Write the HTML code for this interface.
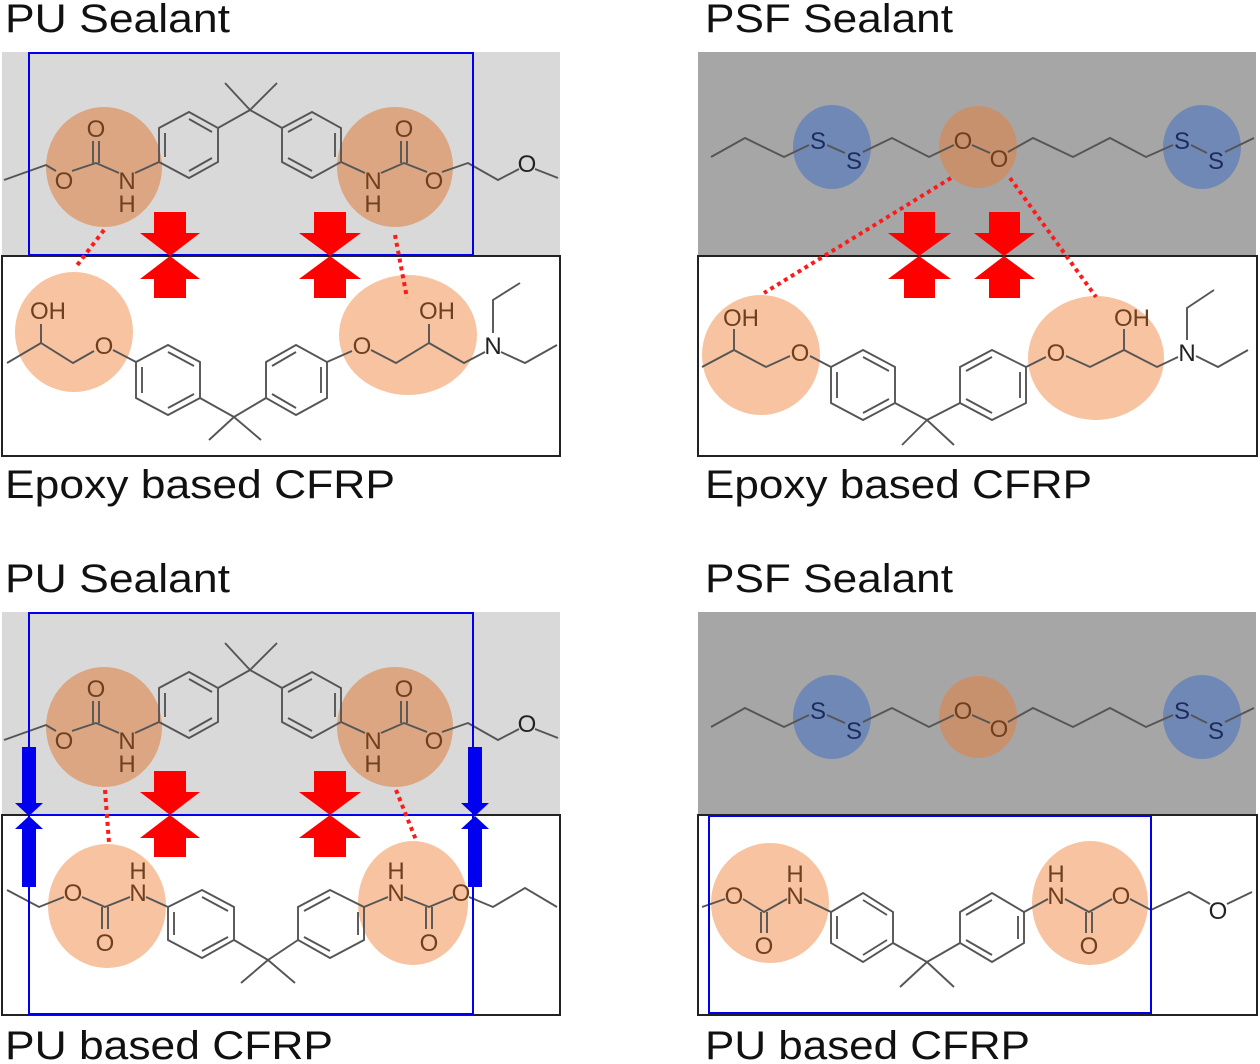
<!DOCTYPE html>
<html><head><meta charset="utf-8"><style>
html,body{margin:0;padding:0;background:#fff}
svg{display:block}
.b{fill:none;stroke:#555;stroke-width:1.9;stroke-linejoin:miter}
.lbl{font-family:"Liberation Sans",sans-serif;font-size:40px;fill:#111}
.a{font-family:"Liberation Sans",sans-serif;font-size:24px;text-anchor:middle;fill:#6e4020}
.k{fill:#222}
.s{fill:#1d2c5c}
.dot{stroke:#ff1a1a;stroke-width:4;stroke-dasharray:4 4;fill:none}
.ar{fill:#ff0000}
.ab{fill:#0000ee}
</style></head><body>
<svg width="1260" height="1064" viewBox="0 0 1260 1064" xmlns="http://www.w3.org/2000/svg">
<text class="lbl" x="5" y="32" textLength="225" lengthAdjust="spacingAndGlyphs">PU Sealant</text>
<text class="lbl" x="705" y="32" textLength="248" lengthAdjust="spacingAndGlyphs">PSF Sealant</text>
<text class="lbl" x="5" y="498" textLength="390" lengthAdjust="spacingAndGlyphs">Epoxy based CFRP</text>
<text class="lbl" x="705" y="498" textLength="387" lengthAdjust="spacingAndGlyphs">Epoxy based CFRP</text>
<text class="lbl" x="5" y="592" textLength="225" lengthAdjust="spacingAndGlyphs">PU Sealant</text>
<text class="lbl" x="705" y="592" textLength="248" lengthAdjust="spacingAndGlyphs">PSF Sealant</text>
<text class="lbl" x="5" y="1059" textLength="328" lengthAdjust="spacingAndGlyphs">PU based CFRP</text>
<text class="lbl" x="705" y="1059" textLength="325" lengthAdjust="spacingAndGlyphs">PU based CFRP</text>

<rect x="2" y="52" width="558" height="204" fill="#d9d9d9"/>
<rect x="2" y="256" width="558" height="200" fill="#fff" stroke="#222" stroke-width="2"/>
<rect x="698" y="52" width="558" height="204" fill="#a6a6a6"/>
<rect x="698" y="256" width="559" height="200" fill="#fff" stroke="#222" stroke-width="2"/>
<rect x="2" y="612" width="558" height="203" fill="#d9d9d9"/>
<rect x="2" y="815" width="558" height="200" fill="#fff" stroke="#222" stroke-width="2"/>
<rect x="698" y="612" width="558" height="203" fill="#a6a6a6"/>
<rect x="698" y="815" width="559" height="200" fill="#fff" stroke="#222" stroke-width="2"/>

<g>
<ellipse cx="104" cy="167" rx="58" ry="60" fill="#dca683"/>
<ellipse cx="395" cy="167" rx="58" ry="60" fill="#dca683"/>
<polyline class="b" points="4,180 46,165 56,171"/>
<polyline class="b" points="72,171 96,163 119,173"/>
<line class="b" x1="93" y1="163" x2="93" y2="141"/><line class="b" x1="99" y1="163" x2="99" y2="141"/>
<line class="b" x1="135" y1="173" x2="159" y2="162"/>
<polygon class="b" points="159,128 189,112 218,128 218,162 189,178 159,162"/>
<line class="b" x1="165" y1="133" x2="165" y2="157"/><line class="b" x1="189" y1="119" x2="212" y2="132"/><line class="b" x1="189" y1="171" x2="212" y2="158"/>
<polyline class="b" points="218,128 250,110 282,128"/>
<line class="b" x1="250" y1="110" x2="225" y2="83"/><line class="b" x1="250" y1="110" x2="277" y2="83"/>
<polygon class="b" points="282,128 312,112 341,128 341,162 312,178 282,162"/>
<line class="b" x1="335" y1="133" x2="335" y2="157"/><line class="b" x1="312" y1="119" x2="288" y2="132"/><line class="b" x1="312" y1="171" x2="288" y2="158"/>
<line class="b" x1="341" y1="162" x2="365" y2="173"/>
<polyline class="b" points="381,173 404,163 427,172"/>
<line class="b" x1="401" y1="163" x2="401" y2="141"/><line class="b" x1="407" y1="163" x2="407" y2="141"/>
<polyline class="b" points="442,172 468,163 498,180 519,169"/>
<line class="b" x1="535" y1="169" x2="558" y2="178"/>
<text class="a" x="64" y="189">O</text>
<text class="a" x="96" y="137">O</text>
<text class="a" x="127" y="189">N</text>
<text class="a" x="127" y="212">H</text>
<text class="a" x="373" y="189">N</text>
<text class="a" x="373" y="212">H</text>
<text class="a" x="404" y="137">O</text>
<text class="a" x="434" y="189">O</text>
<text class="a k" x="527" y="172">O</text>
</g>

<ellipse cx="74" cy="332" rx="59" ry="60" fill="#f7c3a0"/>
<ellipse cx="408" cy="335" rx="69" ry="60" fill="#f7c3a0"/>
<polyline class="b" points="7,363 41,343 73,363 94,351"/>
<line class="b" x1="41" y1="343" x2="41" y2="324"/>
<polyline class="b" points="113,350 136,362"/>
<polygon class="b" points="136,362 168,345 200,362 200,398 168,415 136,398"/>
<line class="b" x1="142" y1="367" x2="142" y2="393"/><line class="b" x1="168" y1="352" x2="194" y2="366"/><line class="b" x1="168" y1="408" x2="194" y2="394"/>
<polyline class="b" points="200,398 234,417 266,398"/>
<line class="b" x1="234" y1="417" x2="209" y2="440"/><line class="b" x1="234" y1="417" x2="261" y2="440"/>
<polygon class="b" points="266,362 296,345 327,362 327,398 296,415 266,398"/>
<line class="b" x1="321" y1="367" x2="321" y2="393"/><line class="b" x1="296" y1="352" x2="272" y2="366"/><line class="b" x1="296" y1="408" x2="272" y2="394"/>
<line class="b" x1="327" y1="362" x2="352" y2="351"/>
<polyline class="b" points="371,350 396,363 429,343 464,363 485,352"/>
<line class="b" x1="429" y1="343" x2="429" y2="324"/>
<polyline class="b" points="493,333 493,300 520,283"/>
<polyline class="b" points="501,352 525,363 557,345"/>
<text class="a" x="48" y="319">OH</text>
<text class="a" x="104" y="354">O</text>
<text class="a" x="362" y="354">O</text>
<text class="a" x="437" y="319">OH</text>
<text class="a k" x="493" y="354">N</text>

<rect x="29" y="53" width="444" height="202" fill="none" stroke="#0000ee" stroke-width="2"/>
<line class="dot" x1="104" y1="230" x2="75" y2="268"/>
<line class="dot" x1="395" y1="235" x2="407" y2="298"/>
<path class="ar" d="M154,212 H186 V233 H200 L170,256 L140,233 H154 Z"/>
<path class="ar" d="M154,298 H186 V279 H200 L170,256 L140,279 H154 Z"/>
<path class="ar" d="M314,212 H346 V233 H361 L330,256 L299,233 H314 Z"/>
<path class="ar" d="M314,298 H346 V279 H361 L330,256 L299,279 H314 Z"/>

<g>
<ellipse cx="832" cy="147" rx="39" ry="42" fill="#6f88b5"/>
<ellipse cx="1202" cy="147" rx="39" ry="42" fill="#6f88b5"/>
<ellipse cx="978" cy="147" rx="39" ry="41" fill="#c8916d"/>
<polyline class="b" points="711,157 745,138 784,157 809,145"/>
<line class="b" x1="827" y1="145" x2="845" y2="153"/>
<polyline class="b" points="863,152 892,138 929,157 954,145"/>
<line class="b" x1="972" y1="145" x2="990" y2="153"/>
<polyline class="b" points="1008,152 1033,138 1073,157 1110,138 1146,157 1173,145"/>
<line class="b" x1="1191" y1="145" x2="1207" y2="153"/>
<line class="b" x1="1225" y1="152" x2="1254" y2="138"/>
<text class="a s" x="818" y="149">S</text>
<text class="a s" x="854" y="169">S</text>
<text class="a" x="963" y="149">O</text>
<text class="a" x="999" y="167">O</text>
<text class="a s" x="1182" y="149">S</text>
<text class="a s" x="1216" y="169">S</text>
</g>

<ellipse cx="761" cy="355" rx="59" ry="60" fill="#f7c3a0"/>
<ellipse cx="1096" cy="358" rx="68" ry="62" fill="#f7c3a0"/>
<polyline class="b" points="702,367 734,350 766,367 790,356"/>
<line class="b" x1="734" y1="350" x2="734" y2="329"/>
<line class="b" x1="810" y1="356" x2="831" y2="367"/>
<polygon class="b" points="831,367 863,350 895,367 895,403 863,420 831,403"/>
<line class="b" x1="837" y1="372" x2="837" y2="398"/><line class="b" x1="863" y1="357" x2="889" y2="371"/><line class="b" x1="863" y1="413" x2="889" y2="399"/>
<polyline class="b" points="895,403 927,420 960,403"/>
<line class="b" x1="927" y1="420" x2="902" y2="445"/><line class="b" x1="927" y1="420" x2="954" y2="445"/>
<polygon class="b" points="960,367 992,350 1026,367 1026,403 992,420 960,403"/>
<line class="b" x1="1020" y1="372" x2="1020" y2="398"/><line class="b" x1="992" y1="357" x2="966" y2="371"/><line class="b" x1="992" y1="413" x2="966" y2="399"/>
<line class="b" x1="1026" y1="367" x2="1046" y2="357"/>
<polyline class="b" points="1066,356 1090,367 1124,350 1157,367 1178,357"/>
<line class="b" x1="1124" y1="350" x2="1124" y2="329"/>
<polyline class="b" points="1187,340 1187,308 1214,290"/>
<polyline class="b" points="1196,356 1218,367 1248,350"/>
<text class="a" x="741" y="326">OH</text>
<text class="a" x="800" y="361">O</text>
<text class="a" x="1056" y="361">O</text>
<text class="a" x="1132" y="326">OH</text>
<text class="a k" x="1187" y="361">N</text>
<line class="dot" x1="951" y1="178" x2="764" y2="293"/>
<line class="dot" x1="1010" y1="178" x2="1096" y2="297"/>
<path class="ar" d="M904,212 H935 V233 H951 L919,256 L888,233 H904 Z"/>
<path class="ar" d="M904,298 H935 V279 H951 L919,256 L888,279 H904 Z"/>
<path class="ar" d="M989,212 H1020 V233 H1035 L1004,256 L974,233 H989 Z"/>
<path class="ar" d="M989,298 H1020 V279 H1035 L1004,256 L974,279 H989 Z"/>

<g transform="translate(0,560)">
<ellipse cx="104" cy="167" rx="58" ry="60" fill="#dca683"/>
<ellipse cx="395" cy="167" rx="58" ry="60" fill="#dca683"/>
<polyline class="b" points="4,180 46,165 56,171"/>
<polyline class="b" points="72,171 96,163 119,173"/>
<line class="b" x1="93" y1="163" x2="93" y2="141"/><line class="b" x1="99" y1="163" x2="99" y2="141"/>
<line class="b" x1="135" y1="173" x2="159" y2="162"/>
<polygon class="b" points="159,128 189,112 218,128 218,162 189,178 159,162"/>
<line class="b" x1="165" y1="133" x2="165" y2="157"/><line class="b" x1="189" y1="119" x2="212" y2="132"/><line class="b" x1="189" y1="171" x2="212" y2="158"/>
<polyline class="b" points="218,128 250,110 282,128"/>
<line class="b" x1="250" y1="110" x2="225" y2="83"/><line class="b" x1="250" y1="110" x2="277" y2="83"/>
<polygon class="b" points="282,128 312,112 341,128 341,162 312,178 282,162"/>
<line class="b" x1="335" y1="133" x2="335" y2="157"/><line class="b" x1="312" y1="119" x2="288" y2="132"/><line class="b" x1="312" y1="171" x2="288" y2="158"/>
<line class="b" x1="341" y1="162" x2="365" y2="173"/>
<polyline class="b" points="381,173 404,163 427,172"/>
<line class="b" x1="401" y1="163" x2="401" y2="141"/><line class="b" x1="407" y1="163" x2="407" y2="141"/>
<polyline class="b" points="442,172 468,163 498,180 519,169"/>
<line class="b" x1="535" y1="169" x2="558" y2="178"/>
<text class="a" x="64" y="189">O</text>
<text class="a" x="96" y="137">O</text>
<text class="a" x="127" y="189">N</text>
<text class="a" x="127" y="212">H</text>
<text class="a" x="373" y="189">N</text>
<text class="a" x="373" y="212">H</text>
<text class="a" x="404" y="137">O</text>
<text class="a" x="434" y="189">O</text>
<text class="a k" x="527" y="172">O</text>
</g>
<ellipse cx="107" cy="906" rx="59" ry="62" fill="#f7c3a0"/>
<ellipse cx="413" cy="903" rx="55" ry="62" fill="#f7c3a0"/>
<polyline class="b" points="7,890 39,907 64,897"/>
<polyline class="b" points="82,897 105,907 130,897"/>
<line class="b" x1="102" y1="907" x2="102" y2="929"/><line class="b" x1="108" y1="907" x2="108" y2="929"/>
<line class="b" x1="146" y1="897" x2="168" y2="907"/>
<polygon class="b" points="168,907 202,890 234,907 234,940 202,958 168,940"/>
<line class="b" x1="174" y1="912" x2="174" y2="935"/><line class="b" x1="202" y1="897" x2="228" y2="911"/><line class="b" x1="202" y1="951" x2="228" y2="937"/>
<polyline class="b" points="234,940 268,960 298,940"/>
<line class="b" x1="268" y1="960" x2="241" y2="983"/><line class="b" x1="268" y1="960" x2="295" y2="983"/>
<polygon class="b" points="298,907 330,890 364,907 364,940 330,958 298,940"/>
<line class="b" x1="358" y1="912" x2="358" y2="935"/><line class="b" x1="330" y1="897" x2="304" y2="911"/><line class="b" x1="330" y1="951" x2="304" y2="937"/>
<line class="b" x1="364" y1="907" x2="388" y2="897"/>
<polyline class="b" points="404,897 429,907 453,897"/>
<line class="b" x1="426" y1="907" x2="426" y2="929"/><line class="b" x1="432" y1="907" x2="432" y2="929"/>
<polyline class="b" points="469,897 493,907 525,888 557,907"/>
<text class="a" x="73" y="901">O</text>
<text class="a" x="105" y="951">O</text>
<text class="a" x="138" y="901">N</text>
<text class="a" x="138" y="879">H</text>
<text class="a" x="396" y="901">N</text>
<text class="a" x="396" y="879">H</text>
<text class="a" x="429" y="951">O</text>
<text class="a" x="461" y="901">O</text>
<rect x="29" y="613" width="444" height="401" fill="none" stroke="#0000ee" stroke-width="2"/>
<line x1="29" y1="815" x2="473" y2="815" stroke="#0000ee" stroke-width="2"/>
<line class="dot" x1="105" y1="790" x2="109" y2="843"/>
<line class="dot" x1="396" y1="790" x2="416" y2="840"/>
<path class="ar" d="M154,771 H186 V792 H200 L170,815 L140,792 H154 Z"/>
<path class="ar" d="M154,857 H186 V838 H200 L170,815 L140,838 H154 Z"/>
<path class="ar" d="M314,771 H346 V792 H361 L330,815 L299,792 H314 Z"/>
<path class="ar" d="M314,857 H346 V838 H361 L330,815 L299,838 H314 Z"/>
<path class="ab" d="M22,747 H36 V803 H43 L29,816 L15,803 H22 Z"/>
<path class="ab" d="M22,887 H36 V829 H43 L29,816 L15,829 H22 Z"/>
<path class="ab" d="M468,747 H482 V803 H489 L475,816 L461,803 H468 Z"/>
<path class="ab" d="M468,887 H482 V829 H489 L475,816 L461,829 H468 Z"/>

<g transform="translate(0,570)">
<ellipse cx="832" cy="147" rx="39" ry="42" fill="#6f88b5"/>
<ellipse cx="1202" cy="147" rx="39" ry="42" fill="#6f88b5"/>
<ellipse cx="978" cy="147" rx="39" ry="41" fill="#c8916d"/>
<polyline class="b" points="711,157 745,138 784,157 809,145"/>
<line class="b" x1="827" y1="145" x2="845" y2="153"/>
<polyline class="b" points="863,152 892,138 929,157 954,145"/>
<line class="b" x1="972" y1="145" x2="990" y2="153"/>
<polyline class="b" points="1008,152 1033,138 1073,157 1110,138 1146,157 1173,145"/>
<line class="b" x1="1191" y1="145" x2="1207" y2="153"/>
<line class="b" x1="1225" y1="152" x2="1254" y2="138"/>
<text class="a s" x="818" y="149">S</text>
<text class="a s" x="854" y="169">S</text>
<text class="a" x="963" y="149">O</text>
<text class="a" x="999" y="167">O</text>
<text class="a s" x="1182" y="149">S</text>
<text class="a s" x="1216" y="169">S</text>
</g>
<ellipse cx="770" cy="903" rx="59" ry="60" fill="#f7c3a0"/>
<ellipse cx="1090" cy="903" rx="58" ry="62" fill="#f7c3a0"/>
<polyline class="b" points="702,907 725,899"/>
<polyline class="b" points="743,899 764,912 787,899"/>
<line class="b" x1="761" y1="912" x2="761" y2="933"/><line class="b" x1="767" y1="912" x2="767" y2="933"/>
<line class="b" x1="804" y1="899" x2="831" y2="912"/>
<polygon class="b" points="831,912 863,893 893,912 893,943 863,962 831,943"/>
<line class="b" x1="837" y1="916" x2="837" y2="939"/><line class="b" x1="863" y1="900" x2="887" y2="915"/><line class="b" x1="863" y1="955" x2="887" y2="940"/>
<polyline class="b" points="893,943 927,962 960,943"/>
<line class="b" x1="927" y1="962" x2="900" y2="987"/><line class="b" x1="927" y1="962" x2="954" y2="987"/>
<polygon class="b" points="960,912 992,893 1024,912 1024,943 992,962 960,943"/>
<line class="b" x1="1018" y1="916" x2="1018" y2="939"/><line class="b" x1="992" y1="900" x2="966" y2="915"/><line class="b" x1="992" y1="955" x2="966" y2="940"/>
<line class="b" x1="1024" y1="912" x2="1048" y2="899"/>
<polyline class="b" points="1065,899 1089,912 1112,899"/>
<line class="b" x1="1086" y1="912" x2="1086" y2="933"/><line class="b" x1="1092" y1="912" x2="1092" y2="933"/>
<polyline class="b" points="1130,899 1151,910 1189,892 1210,904"/>
<line class="b" x1="1227" y1="904" x2="1252" y2="892"/>
<text class="a" x="734" y="904">O</text>
<text class="a" x="764" y="954">O</text>
<text class="a" x="795" y="904">N</text>
<text class="a" x="795" y="882">H</text>
<text class="a" x="1056" y="904">N</text>
<text class="a" x="1056" y="882">H</text>
<text class="a" x="1089" y="954">O</text>
<text class="a" x="1121" y="904">O</text>
<text class="a k" x="1218" y="919">O</text>
<rect x="709" y="816" width="442" height="197" fill="none" stroke="#0000ee" stroke-width="2"/>
</svg>
</body></html>
